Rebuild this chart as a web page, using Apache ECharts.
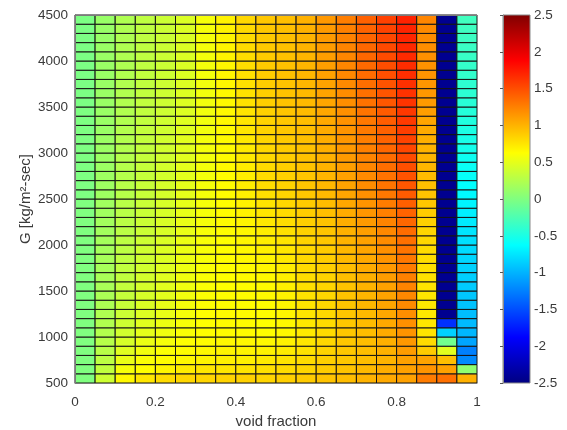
<!DOCTYPE html>
<html>
<head>
<meta charset="utf-8">
<script src="https://cdn.jsdelivr.net/npm/echarts@6/dist/echarts.min.js"></script>
<style>
html,body{margin:0;padding:0;background:#fff;}
#chart{width:567px;height:430px;}
</style>
</head>
<body>
<div id="chart"></div>
<script>
// cell lower-left corners
const voidFraction = [0,0.05,0.1,0.15,0.2,0.25,0.3,0.35,0.4,0.45,0.5,0.55,0.6,0.65,0.7,0.75,0.8,0.85,0.9,0.95];
const massFlux = [500,600,700,800,900,1000,1100,1200,1300,1400,1500,1600,1700,1800,1900,2000,2100,2200,2300,2400,
                  2500,2600,2700,2800,2900,3000,3100,3200,3300,3400,3500,3600,3700,3800,3900,4000,4100,4200,4300,4400];
const xTicks = [0,0.2,0.4,0.6,0.8,1];
const yTicks = [500,1000,1500,2000,2500,3000,3500,4000,4500];
const cbTicks = [-2.5,-2,-1.5,-1,-0.5,0,0.5,1,1.5,2,2.5];

// one array per void-fraction column, values from G=500 (first) to G=4400 (last)
const vf000 = [0,0,0,0,0,0,0,0,0,0,0,0,0,0,0,0,0,0,0,0,-0.01,-0.01,-0.01,-0.01,-0.01,-0.01,-0.01,-0.01,-0.01,-0.01,-0.02,-0.02,-0.02,-0.02,-0.02,-0.02,-0.02,-0.02,-0.02,-0.02];
const vf005 = [0.38,0.32,0.30,0.28,0.27,0.25,0.24,0.23,0.22,0.21,0.20,0.20,0.19,0.19,0.18,0.18,0.17,0.17,0.16,0.16,0.15,0.15,0.15,0.14,0.14,0.14,0.14,0.13,0.13,0.13,0.13,0.13,0.13,0.13,0.13,0.13,0.13,0.12,0.12,0.12];
const vf010 = [0.66,0.58,0.52,0.47,0.43,0.40,0.38,0.37,0.35,0.34,0.33,0.32,0.32,0.31,0.30,0.30,0.29,0.29,0.28,0.28,0.27,0.27,0.26,0.26,0.26,0.25,0.25,0.25,0.24,0.24,0.24,0.24,0.24,0.24,0.23,0.23,0.23,0.23,0.23,0.23];
const vf015 = [0.75,0.63,0.60,0.56,0.53,0.50,0.48,0.46,0.45,0.43,0.42,0.41,0.40,0.39,0.39,0.38,0.37,0.37,0.36,0.36,0.35,0.35,0.34,0.34,0.34,0.33,0.33,0.33,0.32,0.32,0.32,0.32,0.32,0.32,0.31,0.31,0.31,0.31,0.31,0.31];
const vf020 = [0.80,0.68,0.64,0.61,0.58,0.55,0.54,0.52,0.51,0.49,0.48,0.47,0.47,0.46,0.46,0.45,0.44,0.44,0.43,0.43,0.42,0.42,0.41,0.41,0.40,0.40,0.40,0.39,0.39,0.38,0.38,0.38,0.38,0.38,0.37,0.37,0.37,0.37,0.37,0.37];
const vf025 = [0.82,0.72,0.66,0.64,0.62,0.60,0.59,0.58,0.57,0.56,0.55,0.55,0.54,0.54,0.53,0.53,0.52,0.52,0.51,0.51,0.50,0.50,0.49,0.49,0.48,0.48,0.48,0.47,0.47,0.46,0.46,0.46,0.46,0.46,0.45,0.45,0.45,0.45,0.45,0.45];
const vf030 = [0.83,0.75,0.68,0.66,0.64,0.63,0.62,0.62,0.61,0.61,0.60,0.60,0.60,0.59,0.59,0.59,0.59,0.58,0.58,0.58,0.58,0.58,0.57,0.57,0.57,0.57,0.57,0.56,0.56,0.56,0.56,0.56,0.56,0.57,0.57,0.57,0.57,0.58,0.58,0.58];
const vf035 = [0.84,0.75,0.70,0.68,0.66,0.64,0.64,0.64,0.63,0.63,0.63,0.63,0.63,0.63,0.63,0.63,0.64,0.64,0.64,0.64,0.64,0.64,0.64,0.65,0.65,0.65,0.65,0.65,0.66,0.66,0.66,0.66,0.67,0.67,0.67,0.68,0.68,0.68,0.69,0.69];
const vf040 = [0.85,0.76,0.70,0.68,0.66,0.64,0.64,0.64,0.64,0.64,0.64,0.65,0.65,0.66,0.66,0.67,0.67,0.68,0.69,0.69,0.70,0.71,0.71,0.72,0.73,0.73,0.74,0.75,0.75,0.76,0.77,0.77,0.78,0.78,0.79,0.79,0.80,0.80,0.81,0.82];
const vf045 = [0.83,0.78,0.73,0.69,0.66,0.63,0.63,0.64,0.64,0.65,0.65,0.66,0.67,0.68,0.70,0.71,0.72,0.74,0.75,0.76,0.78,0.79,0.80,0.80,0.81,0.82,0.83,0.84,0.84,0.85,0.86,0.86,0.87,0.87,0.88,0.88,0.89,0.89,0.90,0.90];
const vf050 = [0.86,0.80,0.76,0.72,0.69,0.66,0.66,0.67,0.68,0.69,0.70,0.71,0.72,0.74,0.75,0.76,0.78,0.79,0.80,0.82,0.83,0.84,0.85,0.86,0.87,0.88,0.89,0.90,0.90,0.91,0.92,0.92,0.92,0.93,0.93,0.93,0.93,0.94,0.94,0.94];
const vf055 = [0.88,0.83,0.80,0.77,0.75,0.73,0.74,0.75,0.76,0.77,0.78,0.79,0.80,0.81,0.82,0.84,0.85,0.86,0.87,0.88,0.90,0.91,0.91,0.92,0.93,0.93,0.94,0.95,0.95,0.96,0.97,0.97,0.98,0.98,0.99,0.99,1.00,1.00,1.01,1.01];
const vf060 = [0.92,0.88,0.86,0.84,0.82,0.80,0.80,0.81,0.82,0.82,0.83,0.84,0.86,0.87,0.88,0.90,0.91,0.92,0.94,0.95,0.97,0.98,0.99,1.00,1.01,1.02,1.03,1.04,1.05,1.06,1.07,1.08,1.08,1.09,1.10,1.10,1.11,1.12,1.12,1.13];
const vf065 = [0.95,0.92,0.90,0.90,0.90,0.90,0.90,0.91,0.91,0.92,0.92,0.94,0.95,0.97,0.98,1.00,1.01,1.03,1.04,1.06,1.07,1.08,1.09,1.10,1.12,1.13,1.14,1.15,1.16,1.17,1.18,1.19,1.20,1.21,1.22,1.22,1.23,1.24,1.25,1.26];
const vf070 = [1.00,0.97,0.95,0.95,0.95,0.95,0.96,0.97,0.98,0.99,1.00,1.02,1.04,1.05,1.07,1.09,1.10,1.12,1.14,1.15,1.17,1.19,1.20,1.22,1.23,1.25,1.26,1.28,1.29,1.31,1.32,1.33,1.34,1.35,1.36,1.37,1.37,1.38,1.39,1.40];
const vf075 = [1.05,1.03,1.00,1.01,1.02,1.04,1.05,1.06,1.07,1.08,1.09,1.11,1.13,1.15,1.17,1.19,1.21,1.23,1.25,1.27,1.29,1.31,1.32,1.34,1.35,1.37,1.39,1.40,1.42,1.43,1.45,1.46,1.47,1.49,1.50,1.51,1.52,1.53,1.55,1.56];
const vf080 = [1.09,1.09,1.09,1.11,1.13,1.15,1.17,1.18,1.20,1.21,1.23,1.25,1.27,1.29,1.31,1.33,1.35,1.37,1.39,1.41,1.43,1.45,1.47,1.49,1.51,1.53,1.55,1.57,1.59,1.60,1.62,1.63,1.64,1.65,1.66,1.67,1.68,1.69,1.70,1.71];
const vf085 = [1.27,1.15,1.08,0.88,0.80,0.76,0.75,0.74,0.74,0.75,0.76,0.77,0.78,0.79,0.80,0.82,0.83,0.85,0.87,0.90,0.92,0.94,0.96,0.98,0.99,1.00,1.02,1.04,1.07,1.10,1.12,1.13,1.14,1.15,1.16,1.17,1.18,1.19,1.20,1.22];
const vf090 = [1.33,1.09,0.94,0.48,-0.07,-0.85,-1.64,-2.42,-2.42,-2.42,-2.42,-2.42,-2.42,-2.42,-2.42,-2.42,-2.42,-2.42,-2.42,-2.42,-2.42,-2.42,-2.42,-2.42,-2.42,-2.42,-2.42,-2.42,-2.42,-2.42,-2.42,-2.42,-2.42,-2.42,-2.42,-2.42,-2.42,-2.42,-2.42,-2.42];
const vf095 = [1.01,0.08,-1.20,-1.25,-1.07,-0.98,-0.96,-0.94,-0.92,-0.90,-0.88,-0.86,-0.84,-0.82,-0.80,-0.78,-0.75,-0.72,-0.70,-0.67,-0.65,-0.62,-0.60,-0.58,-0.56,-0.53,-0.51,-0.49,-0.47,-0.45,-0.43,-0.41,-0.40,-0.38,-0.37,-0.35,-0.34,-0.33,-0.32,-0.31];

const columns = [vf000,vf005,vf010,vf015,vf020,vf025,vf030,vf035,vf040,vf045,vf050,vf055,vf060,vf065,vf070,vf075,vf080,vf085,vf090,vf095];

const cMin = cbTicks[0], cMax = cbTicks[cbTicks.length - 1];
const jet = ['#000080','#0000ff','#0080ff','#00ffff','#80ff80','#ffff00','#ff8000','#ff0000','#800000'];

const cellData = [];
columns.forEach(function (col, i) {
  col.forEach(function (v, j) {
    cellData.push([voidFraction[i], massFlux[j], v]);
  });
});
const xStep = voidFraction[1] - voidFraction[0];
const yStep = massFlux[1] - massFlux[0];

const font = 'Liberation Sans, Arial, Helvetica, sans-serif';
const txt = '#3a3a3a';
const boxColor = '#7a7a7a';

const chart = echarts.init(document.getElementById('chart'), null, {renderer: 'canvas'});
chart.setOption({
  animation: false,
  backgroundColor: '#ffffff',
  textStyle: {fontFamily: font},
  grid: [
    {left: 75, top: 15, width: 402, height: 368, containLabel: false, outerBoundsMode: 'none'},
    {left: 503, top: 15, width: 27, height: 368, containLabel: false, outerBoundsMode: 'none'}
  ],
  xAxis: [
    {type: 'value', gridIndex: 0, min: xTicks[0], max: xTicks[xTicks.length - 1], interval: 0.2, position: 'bottom', z: 10,
     name: 'void fraction', nameLocation: 'middle', nameGap: 31,
     nameTextStyle: {fontSize: 15, color: txt, fontFamily: font},
     axisLine: {show: true, lineStyle: {color: boxColor, width: 1}},
     axisTick: {show: false}, splitLine: {show: false},
     axisLabel: {fontSize: 13.5, color: txt, margin: 12, fontFamily: font}},
    {type: 'value', gridIndex: 0, min: xTicks[0], max: xTicks[xTicks.length - 1], position: 'top', z: 10,
     axisLine: {show: true, lineStyle: {color: boxColor, width: 1}},
     axisTick: {show: false}, axisLabel: {show: false}, splitLine: {show: false}},
    {type: 'value', gridIndex: 1, min: 0, max: 1, show: false}
  ],
  yAxis: [
    {type: 'value', gridIndex: 0, min: yTicks[0], max: yTicks[yTicks.length - 1], interval: 500, position: 'left', z: 10,
     name: 'G [kg/m²-sec]', nameLocation: 'middle', nameGap: 42, nameRotate: 90, nameMoveOverlap: false,
     nameTextStyle: {fontSize: 15, color: txt, fontFamily: font},
     axisLine: {show: true, lineStyle: {color: boxColor, width: 1}},
     axisTick: {show: false}, splitLine: {show: false},
     axisLabel: {fontSize: 13.5, color: txt, margin: 7, fontFamily: font, formatter: function (v) { return String(v); }}},
    {type: 'value', gridIndex: 0, min: yTicks[0], max: yTicks[yTicks.length - 1], position: 'right', z: 10,
     axisLine: {show: true, lineStyle: {color: boxColor, width: 1}},
     axisTick: {show: false}, axisLabel: {show: false}, splitLine: {show: false}},
    {type: 'value', gridIndex: 1, min: cMin, max: cMax, interval: 0.5, position: 'right', z: 10,
     axisLine: {show: true, lineStyle: {color: '#8a8a8a', width: 1}},
     axisTick: {show: true, inside: true, length: 3, lineStyle: {color: '#555'}},
     splitLine: {show: false},
     axisLabel: {fontSize: 13.5, color: txt, margin: 4, fontFamily: font}}
  ],
  visualMap: {
    type: 'continuous', show: false, min: cMin, max: cMax, dimension: 2, seriesIndex: 0,
    inRange: {color: jet}
  },
  series: [
    {
      type: 'custom', xAxisIndex: 0, yAxisIndex: 0, z: 2,
      encode: {x: 0, y: 1},
      data: cellData,
      renderItem: function (params, api) {
        const x0 = api.value(0), y0 = api.value(1);
        const p0 = api.coord([x0, y0]);
        const p1 = api.coord([x0 + xStep, y0 + yStep]);
        return {
          type: 'rect',
          shape: {x: p0[0], y: p1[1], width: p1[0] - p0[0], height: p0[1] - p1[1]},
          style: {fill: api.visual('color'), stroke: '#141414', lineWidth: 1}
        };
      }
    },
    {
      type: 'custom', xAxisIndex: 2, yAxisIndex: 2, z: 2,
      data: [0],
      renderItem: function (params, api) {
        const cs = params.coordSys;
        const stops = jet.map(function (c, k) { return {offset: k / (jet.length - 1), color: c}; });
        return {
          type: 'rect',
          shape: {x: cs.x, y: cs.y, width: cs.width, height: cs.height},
          style: {fill: new echarts.graphic.LinearGradient(0, 1, 0, 0, stops), stroke: '#8a8a8a', lineWidth: 1}
        };
      }
    }
  ]
});
</script>
</body>
</html>
